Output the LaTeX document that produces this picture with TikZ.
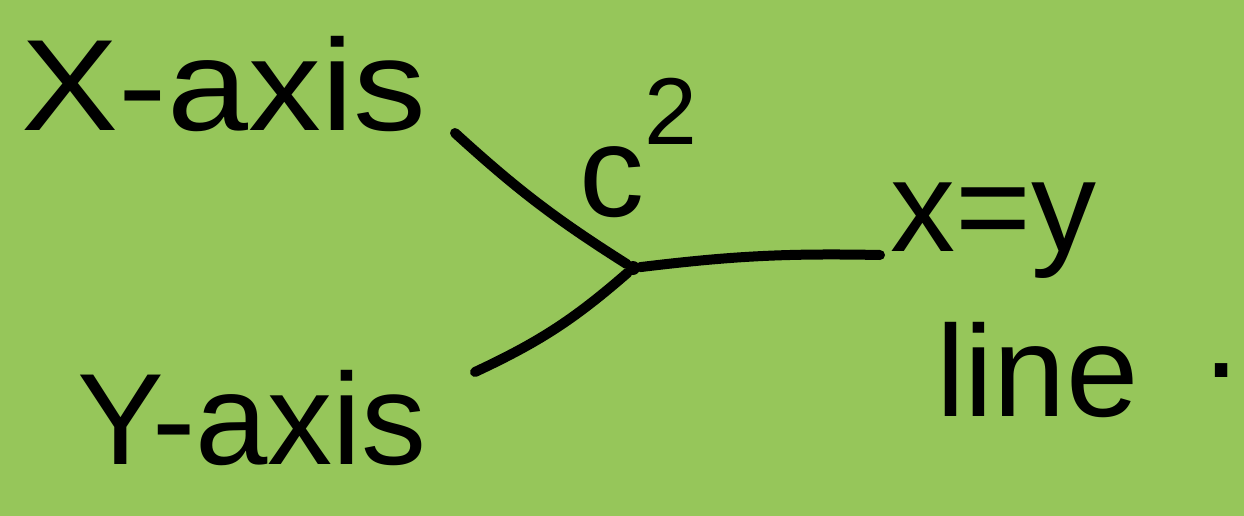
\documentclass[tikz,border=0pt]{standalone}
\usepackage{fontspec}
\setmainfont{Liberation Sans}
\usetikzlibrary{calc}
\definecolor{leaf}{HTML}{96C65A}

\begin{document}
\begin{tikzpicture}[
  x=1pt, y=-1pt,
  hand/.style ={font=\fontsize{130}{165}\selectfont,inner sep=0pt,align=left},
  pen/.style  ={draw,line width=10pt,line cap=round},
  knot/.style ={circle,fill=black,inner sep=0,minimum size=14pt},
]

% ------------------------------------------------------------ background
\fill[leaf] (0,0) rectangle (1244,516);
\useasboundingbox (0,0) rectangle (1244,516);

% ------------------------------------------------------------ labels
\node[hand,xscale=1.12] (xaxis) at (224,84)  {X-axis};
\node[hand] (yaxis) at (252,418) {Y-axis};
\node[hand] (csq)   at (638,148) {c\raisebox{0.55em}{\fontsize{95}{95}\selectfont 2}};
\node[hand] (xyl)   at (1065,300) {x=y\\\hspace{0.35em}line\hspace{0.5em}\raisebox{0.3em}{.}};

% ------------------------------------------------------------ junction
\node[knot] (j) at (633,268) {};
\coordinate (xin)  at (455,133);
\coordinate (yin)  at (475,372);
\coordinate (xyin) at (880,255);

% two axes merge, one line leaves
\draw[pen] (xin) to[bend right=5] (j);
\draw[pen] (yin) to[bend right=8] (j);
\draw[pen] (j) to[bend left=4] (xyin);

\end{tikzpicture}
\end{document}
